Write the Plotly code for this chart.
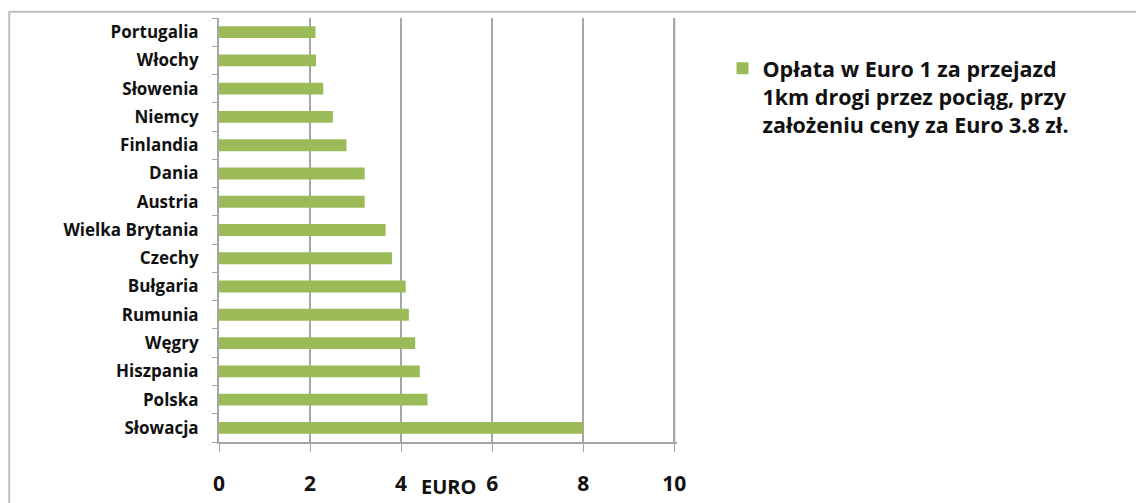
import plotly.graph_objects as go

# Countries, listed top to bottom as they appear on the chart
countries = [
    "Portugalia", "Włochy", "Słowenia", "Niemcy", "Finlandia", "Dania",
    "Austria", "Wielka Brytania", "Czechy", "Bułgaria", "Rumunia", "Węgry",
    "Hiszpania", "Polska", "Słowacja",
]
# Charge in EUR for 1 km of track per train
fee_eur = [2.12, 2.13, 2.29, 2.5, 2.8, 3.2, 3.2, 3.66, 3.8, 4.1, 4.17, 4.31, 4.41, 4.58, 8.0]

x_ticks = [0, 2, 4, 6, 8, 10]
series_name = "Opłata w Euro 1 za przejazd<br>1km drogi przez pociąg, przy<br>założeniu ceny za Euro 3.8 zł."

GREEN = "#9BBB59"
GRID = "#a6a6a6"
FONT = "Open Sans"
TEXT = "#111111"

fig = go.Figure(
    go.Bar(
        y=countries,
        x=fee_eur,
        orientation="h",
        marker=dict(color=GREEN, line=dict(width=0)),
        width=0.42,
        name=series_name,
        showlegend=True,
    )
)

# Grid line at the last tick sits on the plot edge, so draw it explicitly
edge_grid = [
    dict(
        type="line",
        xref="x", yref="paper",
        x0=x_ticks[-1], x1=x_ticks[-1], y0=0, y1=1,
        line=dict(color=GRID, width=2),
        layer="below",
    )
]

fig.update_layout(
    width=1136,
    height=503,
    margin=dict(l=219, r=459, t=18, b=61, autoexpand=False),
    paper_bgcolor="white",
    plot_bgcolor="white",
    font=dict(family=FONT, color=TEXT),
    legend=dict(
        xref="container", yref="container",
        x=0.636, y=0.905, xanchor="left", yanchor="top",
        font=dict(family=FONT, size=21.5, weight="bold", color=TEXT),
        valign="top",
        itemwidth=30,
        tracegroupgap=0,
    ),
    xaxis=dict(
        range=[0, 10.06],
        tickvals=x_ticks,
        ticktext=[str(v) for v in x_ticks],
        showgrid=True,
        gridcolor=GRID,
        gridwidth=2,
        showline=True,
        linecolor=GRID,
        linewidth=2,
        ticks="outside",
        ticklen=8,
        tickcolor=GRID,
        ticklabelstandoff=14,
        tickfont=dict(family=FONT, size=21, weight="bold", color=TEXT),
        zeroline=False,
        automargin=False,
        fixedrange=True,
    ),
    yaxis=dict(
        categoryorder="array",
        categoryarray=countries[::-1],
        showline=True,
        linecolor=GRID,
        linewidth=2,
        ticks="outside",
        ticklen=5,
        tickcolor=GRID,
        tickson="boundaries",
        ticklabelstandoff=15,
        tickfont=dict(family=FONT, size=17, weight="bold", color=TEXT),
        showgrid=False,
        automargin=False,
        fixedrange=True,
    ),
    annotations=[
        dict(
            text="EURO",
            xref="paper", yref="paper",
            x=0.5, y=-0.141,
            xanchor="center", yanchor="bottom",
            showarrow=False,
            font=dict(family=FONT, size=20, weight="bold", color=TEXT),
        )
    ],
    shapes=edge_grid + [
        dict(
            type="rect",
            xref="paper", yref="paper",
            x0=-0.458, x1=2.05, y0=-0.2, y1=1.015,
            line=dict(color="#bfbfbf", width=2),
            layer="below",
        )
    ],
)

fig.write_html("out.html")
